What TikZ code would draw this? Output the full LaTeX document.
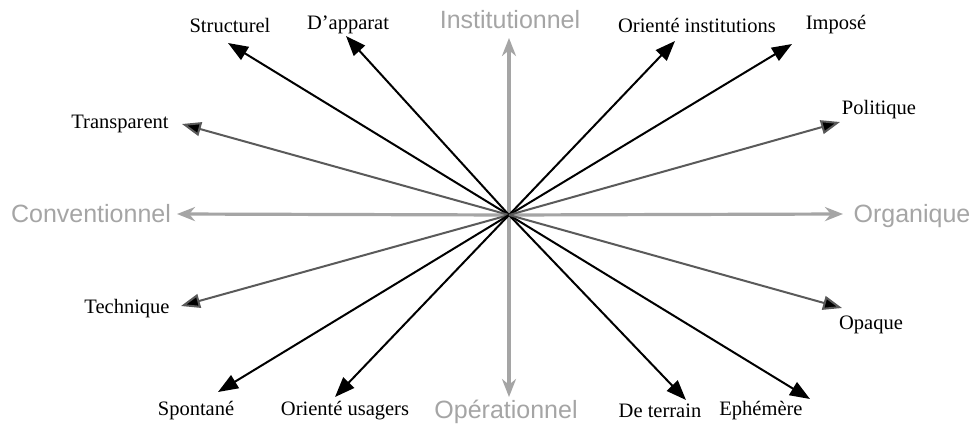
\documentclass[tikz,border=0pt]{standalone}
\usepackage{fontspec}
\setmainfont{Liberation Serif}
\newfontfamily\axisfont{Liberation Sans}
\usetikzlibrary{arrows.meta}
\definecolor{axisgray}{RGB}{165,165,165}
\definecolor{raygray}{RGB}{90,90,90}
\tikzset{
  lbl/.style={font=\fontsize{20.5}{22}\selectfont, text=black, inner sep=0pt},
  axlbl/.style={font=\axisfont\fontsize{25}{27}\selectfont, text=axisgray, inner sep=0pt},
  ray/.style={line width=2pt, draw=black, -{Triangle[length=20pt,width=15pt]}},
  grayray/.style={line width=2pt, draw=raygray, -{Triangle[length=19pt,width=14pt,fill=black]}},
  axis/.style={line width=3.2pt, draw=axisgray, -{Stealth[length=18pt,width=14pt]}},
}
\begin{document}
\begin{tikzpicture}[x=1pt,y=-1pt]
\useasboundingbox (0,0) rectangle (972,429);
\fill[white] (0,0) rectangle (972,429);
\coordinate (o) at (509,215);
% tips
\coordinate (tStruct) at (228,43);
\coordinate (tApp) at (346,36);
\coordinate (tInst) at (509,38);
\coordinate (tOrInst) at (675,41);
\coordinate (tImp) at (792,44);
\coordinate (tPol) at (840,122);
\coordinate (tOrg) at (843,214);
\coordinate (tConv) at (177,214);
\coordinate (tTransp) at (182,124);
\coordinate (tTech) at (181,306);
\coordinate (tSpont) at (218,392);
\coordinate (tOrUs) at (335,397);
\coordinate (tOper) at (509,397);
\coordinate (tTerr) at (686,400);
\coordinate (tEph) at (810,399);
\coordinate (tOpaq) at (842,308);
% axes
\draw[axis] (o) -- (tInst);
\draw[axis] (o) -- (tOper);
\draw[axis] (o) -- (tOrg);
\draw[axis] (o) -- (tConv);
% rays
\draw[ray] (o) -- (tStruct);
\draw[ray] (o) -- (tApp);
\draw[ray] (o) -- (tOrInst);
\draw[ray] (o) -- (tImp);
\draw[grayray] (o) -- (tPol);
\draw[grayray] (o) -- (tTransp);
\draw[grayray] (o) -- (tTech);
\draw[ray] (o) -- (tSpont);
\draw[ray] (o) -- (tOrUs);
\draw[ray] (o) -- (tTerr);
\draw[ray] (o) -- (tEph);
\draw[grayray] (o) -- (tOpaq);
% labels
\node[axlbl] (lInst) at (510,20) {Institutionnel};
\node[axlbl] (lOper) at (506,412) {Opérationnel};
\node[axlbl] (lConv) at (91,214) {Conventionnel};
\node[axlbl] (lOrg) at (912,216) {Organique};
\node[lbl] (lStruct) at (230,25) {Structurel};
\node[lbl] (lApp) at (348,25) {D'apparat};
\node[lbl] (lOrInst) at (697,25) {Orienté institutions};
\node[lbl] (lImp) at (836,25) {Imposé};
\node[lbl] (lTransp) at (120,124) {Transparent};
\node[lbl] (lPol) at (879,110) {Politique};
\node[lbl] (lTech) at (127,309) {Technique};
\node[lbl] (lOpaq) at (871,325) {Opaque};
\node[lbl] (lSpont) at (196,411) {Spontané};
\node[lbl] (lOrUs) at (345,411) {Orienté usagers};
\node[lbl] (lTerr) at (660,411) {De terrain};
\node[lbl] (lEph) at (761,411) {Ephémère};
\end{tikzpicture}
\end{document}
